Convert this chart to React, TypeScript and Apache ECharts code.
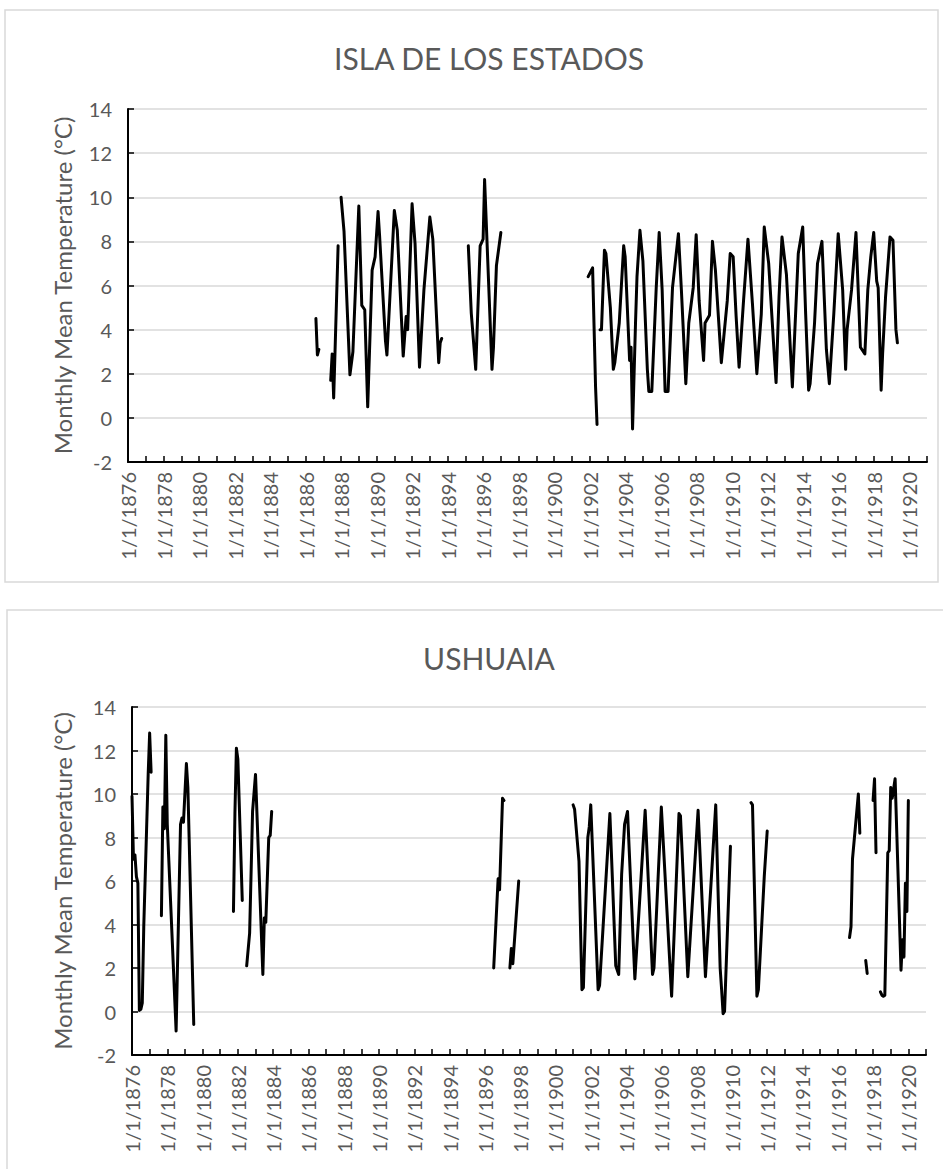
import React, { useEffect, useRef } from "react";
import * as echarts from "echarts";

// ---------- data (monthly mean temperature, °C) ----------
const yAxisTicks = { min: -2, max: 14, step: 2 };
const xYears = { first: 1876, last: 1921 };
const titles = ["ISLA DE LOS ESTADOS", "USHUAIA"];
const yAxisName = "Monthly Mean Temperature (°C)";

// [YYYY-MM, value]; null breaks the line (missing data)
const islaDeLosEstados: [string, number | null][] = [
  ["1886-08", 4.5], ["1886-09", 2.85], ["1886-10", 3.1], ["1886-11", null],
  ["1887-06", 1.7], ["1887-07", 2.9], ["1887-08", 0.9], ["1887-11", 7.8], ["1887-12", null],
  ["1888-01", 10.0], ["1888-03", 8.45], ["1888-07", 1.95], ["1888-09", 3.0],
  ["1889-01", 9.6], ["1889-03", 5.1], ["1889-05", 4.9], ["1889-07", 0.5], ["1889-10", 6.7], ["1889-12", 7.3],
  ["1890-02", 9.35], ["1890-03", 8.3], ["1890-07", 3.5], ["1890-08", 2.85],
  ["1891-01", 9.4], ["1891-03", 8.5], ["1891-07", 2.8], ["1891-09", 4.6], ["1891-10", 4.0],
  ["1892-01", 9.7], ["1892-03", 7.9], ["1892-06", 2.3], ["1892-09", 5.8],
  ["1893-01", 9.1], ["1893-03", 8.1], ["1893-07", 2.5], ["1893-08", 3.4], ["1893-09", 3.6], ["1893-10", null],
  ["1895-03", 7.8], ["1895-05", 4.75], ["1895-08", 2.2], ["1895-11", 7.8],
  ["1896-01", 8.1], ["1896-02", 10.8], ["1896-07", 2.2], ["1896-08", 3.2], ["1896-10", 6.9],
  ["1897-01", 8.4], ["1897-02", null],
  ["1901-12", 6.4], ["1902-03", 6.8], ["1902-05", 1.4], ["1902-06", -0.3], ["1902-07", null],
  ["1902-08", 4.0], ["1902-09", 4.0], ["1902-11", 7.6], ["1902-12", 7.45],
  ["1903-03", 5.0], ["1903-05", 2.2], ["1903-06", 2.5], ["1903-09", 4.3], ["1903-12", 7.8],
  ["1904-01", 7.3], ["1904-04", 2.6], ["1904-05", 3.2], ["1904-06", -0.5], ["1904-08", 4.3], ["1904-09", 6.4], ["1904-11", 8.5],
  ["1905-01", 7.1], ["1905-04", 2.2], ["1905-05", 1.2], ["1905-07", 1.2], ["1905-10", 5.9], ["1905-12", 8.4],
  ["1906-02", 5.8], ["1906-04", 1.2], ["1906-06", 1.2], ["1906-09", 5.9],
  ["1907-01", 8.35], ["1907-03", 5.8], ["1907-06", 1.55], ["1907-08", 4.3], ["1907-11", 5.9],
  ["1908-01", 8.3], ["1908-03", 5.3], ["1908-06", 2.6], ["1908-07", 4.3], ["1908-10", 4.65], ["1908-12", 8.0],
  ["1909-02", 6.7], ["1909-06", 2.5], ["1909-10", 5.3], ["1909-12", 7.45],
  ["1910-02", 7.3], ["1910-04", 4.6], ["1910-06", 2.3], ["1910-09", 5.3], ["1910-12", 8.1],
  ["1911-03", 5.2], ["1911-06", 2.0], ["1911-09", 4.7], ["1911-11", 8.65],
  ["1912-02", 7.0], ["1912-06", 2.6], ["1912-07", 1.6], ["1912-09", 5.5], ["1912-11", 8.2],
  ["1913-02", 6.5], ["1913-06", 1.4], ["1913-10", 7.45],
  ["1914-01", 8.65], ["1914-03", 4.7], ["1914-05", 1.25], ["1914-06", 1.55], ["1914-09", 4.3], ["1914-11", 7.0],
  ["1915-02", 8.0], ["1915-05", 3.1], ["1915-07", 1.55], ["1915-10", 4.7],
  ["1916-01", 8.35], ["1916-04", 5.8], ["1916-06", 2.2], ["1916-07", 4.0], ["1916-10", 5.8],
  ["1917-01", 8.4], ["1917-04", 3.2], ["1917-07", 2.9], ["1917-09", 5.8], ["1917-11", 7.3],
  ["1918-01", 8.4], ["1918-03", 6.2], ["1918-04", 5.9], ["1918-06", 1.25], ["1918-07", 2.9], ["1918-09", 5.5], ["1918-12", 8.2],
  ["1919-02", 8.05], ["1919-04", 4.0], ["1919-05", 3.4],
];

const ushuaia: [string, number | null][] = [
  ["1876-01", 9.9], ["1876-02", 7.0], ["1876-03", 7.2], ["1876-04", 6.2], ["1876-05", 5.9], ["1876-06", 0.05],
  ["1876-07", 0.1], ["1876-08", 0.4], ["1876-09", 3.9], ["1876-12", 10.9], ["1877-01", 12.8], ["1877-02", 11.0], ["1877-03", null],
  ["1877-09", 4.4], ["1877-10", 9.4], ["1877-11", 8.4], ["1877-12", 12.7], ["1878-01", 8.6], ["1878-07", -0.9],
  ["1878-10", 8.6], ["1878-11", 8.9], ["1878-12", 8.7], ["1879-02", 11.4], ["1879-03", 10.3], ["1879-07", -0.6], ["1879-08", null],
  ["1881-10", 4.6], ["1881-11", 9.1], ["1881-12", 12.1], ["1882-01", 11.6], ["1882-04", 5.1], ["1882-05", null],
  ["1882-07", 2.1], ["1882-09", 3.6], ["1882-11", 9.2], ["1883-01", 10.9], ["1883-06", 1.7], ["1883-07", 4.3],
  ["1883-08", 4.1], ["1883-10", 8.0], ["1883-11", 8.1], ["1883-12", 9.2], ["1884-01", null],
  ["1896-07", 2.0], ["1896-10", 6.1], ["1896-11", 5.6], ["1897-01", 9.8], ["1897-02", 9.7], ["1897-03", null],
  ["1897-06", 2.0], ["1897-07", 2.9], ["1897-08", 2.2], ["1897-12", 6.0], ["1898-01", null],
  ["1901-01", 9.5], ["1901-02", 9.3], ["1901-05", 6.9], ["1901-07", 1.0], ["1901-08", 1.1], ["1901-11", 8.0], ["1901-12", 8.5],
  ["1902-01", 9.5], ["1902-06", 1.0], ["1902-07", 1.2], ["1903-02", 9.1], ["1903-06", 2.1], ["1903-08", 1.7],
  ["1903-10", 6.3], ["1903-12", 8.6], ["1904-02", 9.2], ["1904-07", 1.5], ["1905-02", 9.25], ["1905-07", 1.7],
  ["1905-08", 2.0], ["1906-01", 9.4], ["1906-08", 0.7], ["1907-01", 9.1], ["1907-02", 9.0], ["1907-07", 1.6],
  ["1908-02", 9.25], ["1908-07", 1.6], ["1909-02", 9.5], ["1909-05", 2.0], ["1909-06", 1.0], ["1909-07", -0.1],
  ["1909-08", 0.0], ["1909-12", 7.6], ["1910-01", null],
  ["1911-02", 9.6], ["1911-03", 9.5], ["1911-06", 0.7], ["1911-07", 1.0], ["1911-11", 6.2], ["1912-01", 8.3], ["1912-02", null],
  ["1916-09", 3.4], ["1916-10", 3.9], ["1916-11", 7.0], ["1917-01", 8.5], ["1917-03", 10.0], ["1917-04", 8.2], ["1917-05", null],
  ["1917-08", 2.35], ["1917-09", 1.75], ["1917-10", null],
  ["1918-01", 9.7], ["1918-02", 10.7], ["1918-03", 7.3], ["1918-04", null],
  ["1918-06", 0.9], ["1918-07", 0.75], ["1918-08", 0.7], ["1918-09", 0.75], ["1918-11", 7.3], ["1918-12", 7.4],
  ["1919-01", 10.3], ["1919-02", 9.8], ["1919-04", 10.7], ["1919-08", 1.9], ["1919-09", 3.3], ["1919-10", 2.5],
  ["1919-11", 5.9], ["1919-12", 4.6], ["1920-01", 9.7],
];

// ---------- helpers ----------
const toPoints = (rows: [string, number | null][]) =>
  rows.map(([d, v]) => {
    const [y, m] = d.split("-").map(Number);
    return [y + (m - 1) / 12, v];
  });

const GRAY = "#595959";
const FONT = "Lato, 'Open Sans', sans-serif";

const makeXAxis = (gridIndex: number) => ({
  type: "value",
  gridIndex,
  min: xYears.first,
  max: xYears.last,
  interval: 1,
  axisLine: { show: true, onZero: false, lineStyle: { color: "#000", width: 2 } },
  axisTick: { show: true, inside: true, length: 6, lineStyle: { color: "#000", width: 1.5 } },
  splitLine: { show: false },
  axisLabel: {
    rotate: 90,
    margin: 10,
    color: GRAY,
    fontSize: 20,
    fontFamily: FONT,
    hideOverlap: false,
    formatter: (v: number) => (v % 2 === 0 && v < xYears.last ? `1/1/${v}` : ""),
  },
});

const makeYAxis = (gridIndex: number, nameGap: number) => ({
  type: "value",
  gridIndex,
  min: yAxisTicks.min,
  max: yAxisTicks.max,
  interval: yAxisTicks.step,
  name: yAxisName,
  nameLocation: "middle",
  nameGap,
  nameTextStyle: { color: GRAY, fontSize: 24, fontFamily: FONT },
  axisLine: { show: true, lineStyle: { color: "#000", width: 2 } },
  axisTick: { show: true, inside: true, length: 6, lineStyle: { color: "#000", width: 1.5 } },
  splitLine: { show: true, lineStyle: { color: "#d9d9d9", width: 1.5 } },
  axisLabel: { color: GRAY, fontSize: 20, fontFamily: FONT, margin: 16 },
});

const makeSeries = (rows: [string, number | null][], idx: number) => ({
  type: "line",
  xAxisIndex: idx,
  yAxisIndex: idx,
  data: toPoints(rows),
  showSymbol: false,
  symbol: "none",
  connectNulls: false,
  lineStyle: { color: "#000", width: 3, join: "round", cap: "round" },
});

export default function App() {
  const ref = useRef<HTMLDivElement>(null);
  useEffect(() => {
    if (!ref.current) return;
    const chart = echarts.init(ref.current, null, { renderer: "svg" });
    chart.setOption({
      animation: false,
      backgroundColor: "#fff",
      title: [
        { text: titles[0], left: 484, top: 38, textAlign: "center",
          textStyle: { color: GRAY, fontSize: 30, fontWeight: "normal", fontFamily: FONT } },
        { text: titles[1], left: 484, top: 638, textAlign: "center",
          textStyle: { color: GRAY, fontSize: 30, fontWeight: "normal", fontFamily: FONT } },
      ],
      graphic: [
        { type: "rect", shape: { x: 5, y: 10, width: 933, height: 572 }, style: { fill: "none", stroke: "#d9d9d9", lineWidth: 1.5 }, z: -1 },
        { type: "rect", shape: { x: 7, y: 610, width: 940, height: 570 }, style: { fill: "none", stroke: "#d9d9d9", lineWidth: 1.5 }, z: -1 },
      ],
      grid: [
        { left: 128, top: 109, width: 799, height: 353 },
        { left: 132, top: 707, width: 794, height: 348 },
      ],
      xAxis: [makeXAxis(0), makeXAxis(1)],
      yAxis: [makeYAxis(0, 54), makeYAxis(1, 58)],
      series: [makeSeries(islaDeLosEstados, 0), makeSeries(ushuaia, 1)],
    });
    return () => chart.dispose();
  }, []);
  return (
    <div style={{ position: "absolute", left: 0, top: 0, width: 943, height: 1169, background: "#fff" }}>
      <div ref={ref} style={{ width: 943, height: 1169 }} />
    </div>
  );
}
